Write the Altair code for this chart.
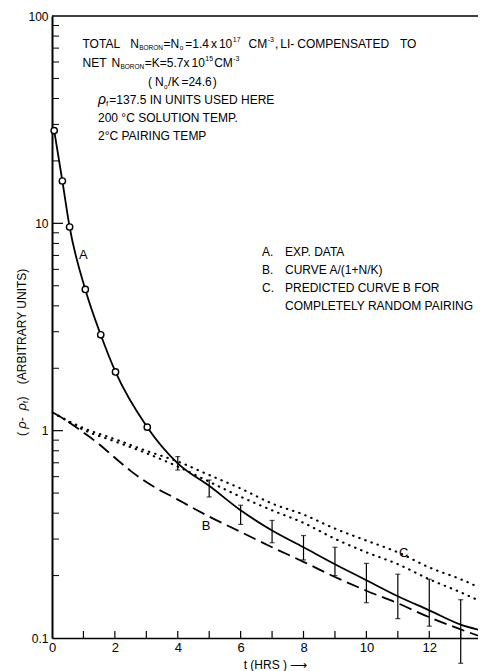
import altair as alt
import pandas as pd

# ---------------- data ----------------
# Curve A: open circles (early measurements)
circ_t = [0.07, 0.33, 0.56, 1.06, 1.55, 2.02, 3.03]
circ_v = [28.0, 16.0, 9.6, 4.8, 2.9, 1.92, 1.04]
# Curve A: hourly points with error bars
bar_t = [4, 5, 6, 7, 8, 9, 10, 11, 12, 13]
bar_v = [0.696, 0.542, 0.413, 0.330, 0.274, 0.227, 0.190, 0.159, 0.136, 0.116]
bar_lo = [0.646, 0.479, 0.353, 0.288, 0.238, 0.200, 0.148, 0.124, 0.114, 0.0755]
bar_hi = [0.750, 0.578, 0.437, 0.369, 0.312, 0.274, 0.229, 0.203, 0.192, 0.153]
a_end_t = [13.85]
a_end_v = [0.107]

# Curve B (dashed)
b_t = [0, 0.5, 1, 1.5, 2, 2.5, 3, 4, 5, 6, 7, 8, 9, 10, 11, 12, 13, 13.85]
b_v = [1.23, 1.11, 0.98, 0.86, 0.74, 0.64, 0.565, 0.465, 0.385, 0.325,
       0.274, 0.233, 0.197, 0.169, 0.147, 0.126, 0.110, 0.099]

# Curve C (two dotted lines)
c_t = [0.2, 1, 2, 3, 4, 5, 6, 7, 8, 9, 10, 11, 12, 13, 13.85]
c_upper = [1.18, 1.03, 0.91, 0.80, 0.71, 0.611, 0.526, 0.445, 0.394, 0.337,
           0.295, 0.259, 0.219, 0.192, 0.168]
c_lower = [1.18, 1.01, 0.887, 0.779, 0.671, 0.567, 0.48, 0.413, 0.359, 0.301,
           0.259, 0.227, 0.192, 0.166, 0.145]

# curve labels (text, t, value)
lab_text = ["A", "B", "C"]
lab_t = [1.0, 4.9, 11.19]
lab_v = [7.06, 0.345, 0.258]

# axes
x_label_vals = [0, 2, 4, 6, 8, 10, 12]
x_tick_vals = [1, 2, 3, 4, 5, 6, 7, 8, 9, 10, 11, 12, 13]
y_label_vals = [0.1, 1, 10, 100]
y_minor = [0.2, 0.3, 0.4, 0.5, 0.6, 0.7, 0.8, 0.9,
           2, 3, 4, 5, 6, 7, 8, 9,
           20, 30, 40, 50, 60, 70, 80, 90]
y_major = [1, 10]
top_edge = [100]

# ---------------- chart ----------------
W, H = 426, 622
XMAX = 13.55
FONT = "Liberation Sans, Arial, sans-serif"

x_scale = alt.Scale(domain=[0, XMAX], nice=False, zero=False)
y_scale = alt.Scale(type="log", domain=[0.1, 100], nice=False)

x_axis = alt.Axis(values=x_label_vals, ticks=False, grid=False, labelFlush=False,
                  domainColor="black", domainWidth=1.5, labelFontSize=13,
                  labelPadding=3, labelFont=FONT, labelColor="black",
                  title="t (HRS ) \u27f6", titleFont=FONT, titleFontSize=12,
                  titleFontWeight="normal", titleColor="black",
                  titleX=223, titleY=26, titleBaseline="middle", titleAlign="center")
y_axis = alt.Axis(values=y_label_vals, format="~g", ticks=False, grid=False,
                  domainColor="black", domainWidth=2, labelFontSize=12,
                  labelPadding=4, labelFont=FONT, labelColor="black", title=None)


def X(field="t"):
    return alt.X(f"{field}:Q", scale=x_scale, axis=x_axis)


def Y(field="v"):
    return alt.Y(f"{field}:Q", scale=y_scale, axis=y_axis)


a_df = pd.DataFrame({"t": circ_t + bar_t + a_end_t, "v": circ_v + bar_v + a_end_v})
circ_df = pd.DataFrame({"t": circ_t, "v": circ_v})
bar_df = pd.DataFrame({"t": bar_t, "v": bar_v, "lo": bar_lo, "hi": bar_hi})
cap_df = pd.DataFrame({"t": bar_t + bar_t, "v": bar_lo + bar_hi})
b_df = pd.DataFrame({"t": b_t, "v": b_v})
c_df = pd.DataFrame({"t": c_t + c_t, "v": c_upper + c_lower,
                     "s": ["upper"] * len(c_t) + ["lower"] * len(c_t)})
lab_df = pd.DataFrame({"t": lab_t, "v": lab_v, "s": lab_text})

top = alt.Chart(pd.DataFrame({"v": top_edge})).mark_rule(
    color="black", strokeWidth=1.5).encode(y=Y(), x=alt.value(0), x2=alt.value(W + 30))
minor = alt.Chart(pd.DataFrame({"v": y_minor})).mark_rule(
    color="black", strokeWidth=1).encode(y=Y(), x=alt.value(0), x2=alt.value(7))
major = alt.Chart(pd.DataFrame({"v": y_major})).mark_rule(
    color="black", strokeWidth=1.2).encode(y=Y(), x=alt.value(0), x2=alt.value(11))
xticks = alt.Chart(pd.DataFrame({"t": x_tick_vals})).mark_rule(
    color="black", strokeWidth=1.2).encode(x=X(), y=alt.value(H), y2=alt.value(H - 7))

line_a = alt.Chart(a_df).mark_line(color="black", strokeWidth=1.8,
                                   interpolate="monotone").encode(x=X(), y=Y())
line_b = alt.Chart(b_df).mark_line(color="black", strokeWidth=1.8,
                                   strokeDash=[13, 6], interpolate="monotone").encode(x=X(), y=Y())
line_c = alt.Chart(c_df).mark_line(color="black", strokeWidth=2.1, strokeCap="round",
                                   strokeDash=[0.5, 6], interpolate="monotone").encode(
    x=X(), y=Y(), detail="s:N")
bars = alt.Chart(bar_df).mark_rule(color="black", strokeWidth=1.2).encode(
    x=X(), y=Y("lo"), y2="hi:Q")
caps = alt.Chart(cap_df).mark_tick(color="black", orient="horizontal", size=5,
                                   thickness=1.2).encode(x=X(), y=Y())
circles = alt.Chart(circ_df).mark_point(shape="circle", filled=True, fill="white",
                                        stroke="black", strokeWidth=1.4, size=40,
                                        opacity=1).encode(x=X(), y=Y())
labels = alt.Chart(lab_df).mark_text(font=FONT, fontSize=13, color="black").encode(
    x=X(), y=Y(), text="s:N")

# ---- annotation text (Arial / Liberation Sans advance widths, per 1000 em) ----
AW = {" ": 278, "(": 333, ")": 333, ",": 278, "-": 333, ".": 278, "/": 278,
      "=": 584, "x": 500, "o": 556, "f": 278, "\u00b0": 400, "\u03c1": 577}
AW.update({d: 556 for d in "0123456789"})
AW.update({"A": 667, "B": 667, "C": 722, "D": 722, "E": 667, "G": 778, "H": 722,
           "I": 278, "K": 667, "L": 556, "M": 833, "N": 722, "O": 778, "P": 667,
           "R": 722, "S": 667, "T": 611, "U": 722, "Y": 667})


def width(s, size):
    return sum(AW.get(c, 600) for c in s) * size / 1000.0


dummy = pd.DataFrame({"d": [0]})


def txt(s, x, y, size=12, style="normal", angle=0):
    return alt.Chart(dummy).mark_text(font=FONT, fontSize=size, color="black",
                                      align="left", baseline="middle",
                                      fontStyle=style, angle=angle).encode(
        x=alt.value(x), y=alt.value(y), text=alt.value(s))


def chain(x0, y, segs):
    """segs: (text, size, dy, gap_before[, style])"""
    out, cur = [], x0
    for seg in segs:
        s, size, dy, gap = seg[:4]
        style = seg[4] if len(seg) > 4 else "normal"
        cur += gap
        out.append(txt(s, cur, y + dy, size, style))
        cur += width(s, size)
    return out


def vchain(x, y0, segs):
    """rotated (reading upward) chain: segs (text, size, dx, gap_before[, style])"""
    out, cur = [], y0
    for seg in segs:
        s, size, dx, gap = seg[:4]
        style = seg[4] if len(seg) > 4 else "normal"
        cur -= gap
        out.append(txt(s, x + dx, cur, size, style, angle=270))
        cur -= width(s, size)
    return out


SUB, SUP = 3.5, -4.5
notes = []
notes += chain(30.5, 28, [("TOTAL", 12, 0, 0), ("N", 12, 0, 9), ("BORON", 6.5, SUB, 0.3),
                          ("=N", 12, 0, 0.5), ("o", 6.5, SUB, 0.5), ("=1.4", 12, 0, 2),
                          ("x", 12, 0, 2), ("10", 12, 0, 2), ("17", 7, SUP, 0.5),
                          ("CM", 12, 0, 8), ("-3", 7, SUP, 0.5), (",", 12, 0, 1),
                          ("LI-", 12, 0, 2), ("COMPENSATED", 12, 0, 3), ("TO", 12, 0, 10)])
notes += chain(30.5, 47, [("NET", 12, 0, 0), ("N", 12, 0, 5), ("BORON", 6.5, SUB, 0.3),
                          ("=K=5.7x", 12, 0, 0.5), ("10", 12, 0, 2), ("15", 7, SUP, 0.5),
                          ("CM", 12, 0, 1), ("-3", 7, SUP, 0.5)])
notes += chain(96, 66, [("(", 12, 0, 0), ("N", 12, 0, 3), ("o", 6.5, 4.5, 0.3),
                        ("/K", 12, 0, 0.5), ("=24.6", 12, 0, 2), (")", 12, 0, 1)])
notes += chain(46, 84, [("\u03c1", 14, 0, 0, "italic"), ("f", 8, 4, 0),
                        ("=137.5 IN UNITS USED HERE", 12, 0, 1)])
notes += [txt("200 \u00b0C SOLUTION TEMP.", 46, 102),
          txt("2\u00b0C PAIRING TEMP", 46, 120)]
notes += [txt("A.", 210, 236), txt("EXP. DATA", 233, 236),
          txt("B.", 210, 254), txt("CURVE A/(1+N/K)", 233, 254),
          txt("C.", 210, 272), txt("PREDICTED CURVE B FOR", 233, 272),
          txt("COMPLETELY RANDOM PAIRING", 233, 290)]
# y-axis title, drawn as rotated text so that the subscript f can be shown
notes += vchain(-30, 420, [("( ", 12, 0, 0), ("\u03c1", 13, 0, 0, "italic"),
                           (" - ", 12, 0, 0), ("\u03c1", 13, 0, 0, "italic"),
                           ("f", 7, 3.5, 0), (" )", 12, 0, 0.5),
                           ("(ARBITRARY UNITS)", 12, 0, 9)])

chart = alt.layer(top, minor, major, xticks, line_c, line_b, line_a, bars, caps,
                  circles, labels, *notes).properties(
    width=W, height=H,
    padding={"left": 44, "top": 8, "right": 0, "bottom": 33},
    autosize=alt.AutoSizeParams(type="none"),
    background="white",
).configure_view(stroke=None)

chart.save("out.html", embed_options={"renderer": "svg", "actions": False})
